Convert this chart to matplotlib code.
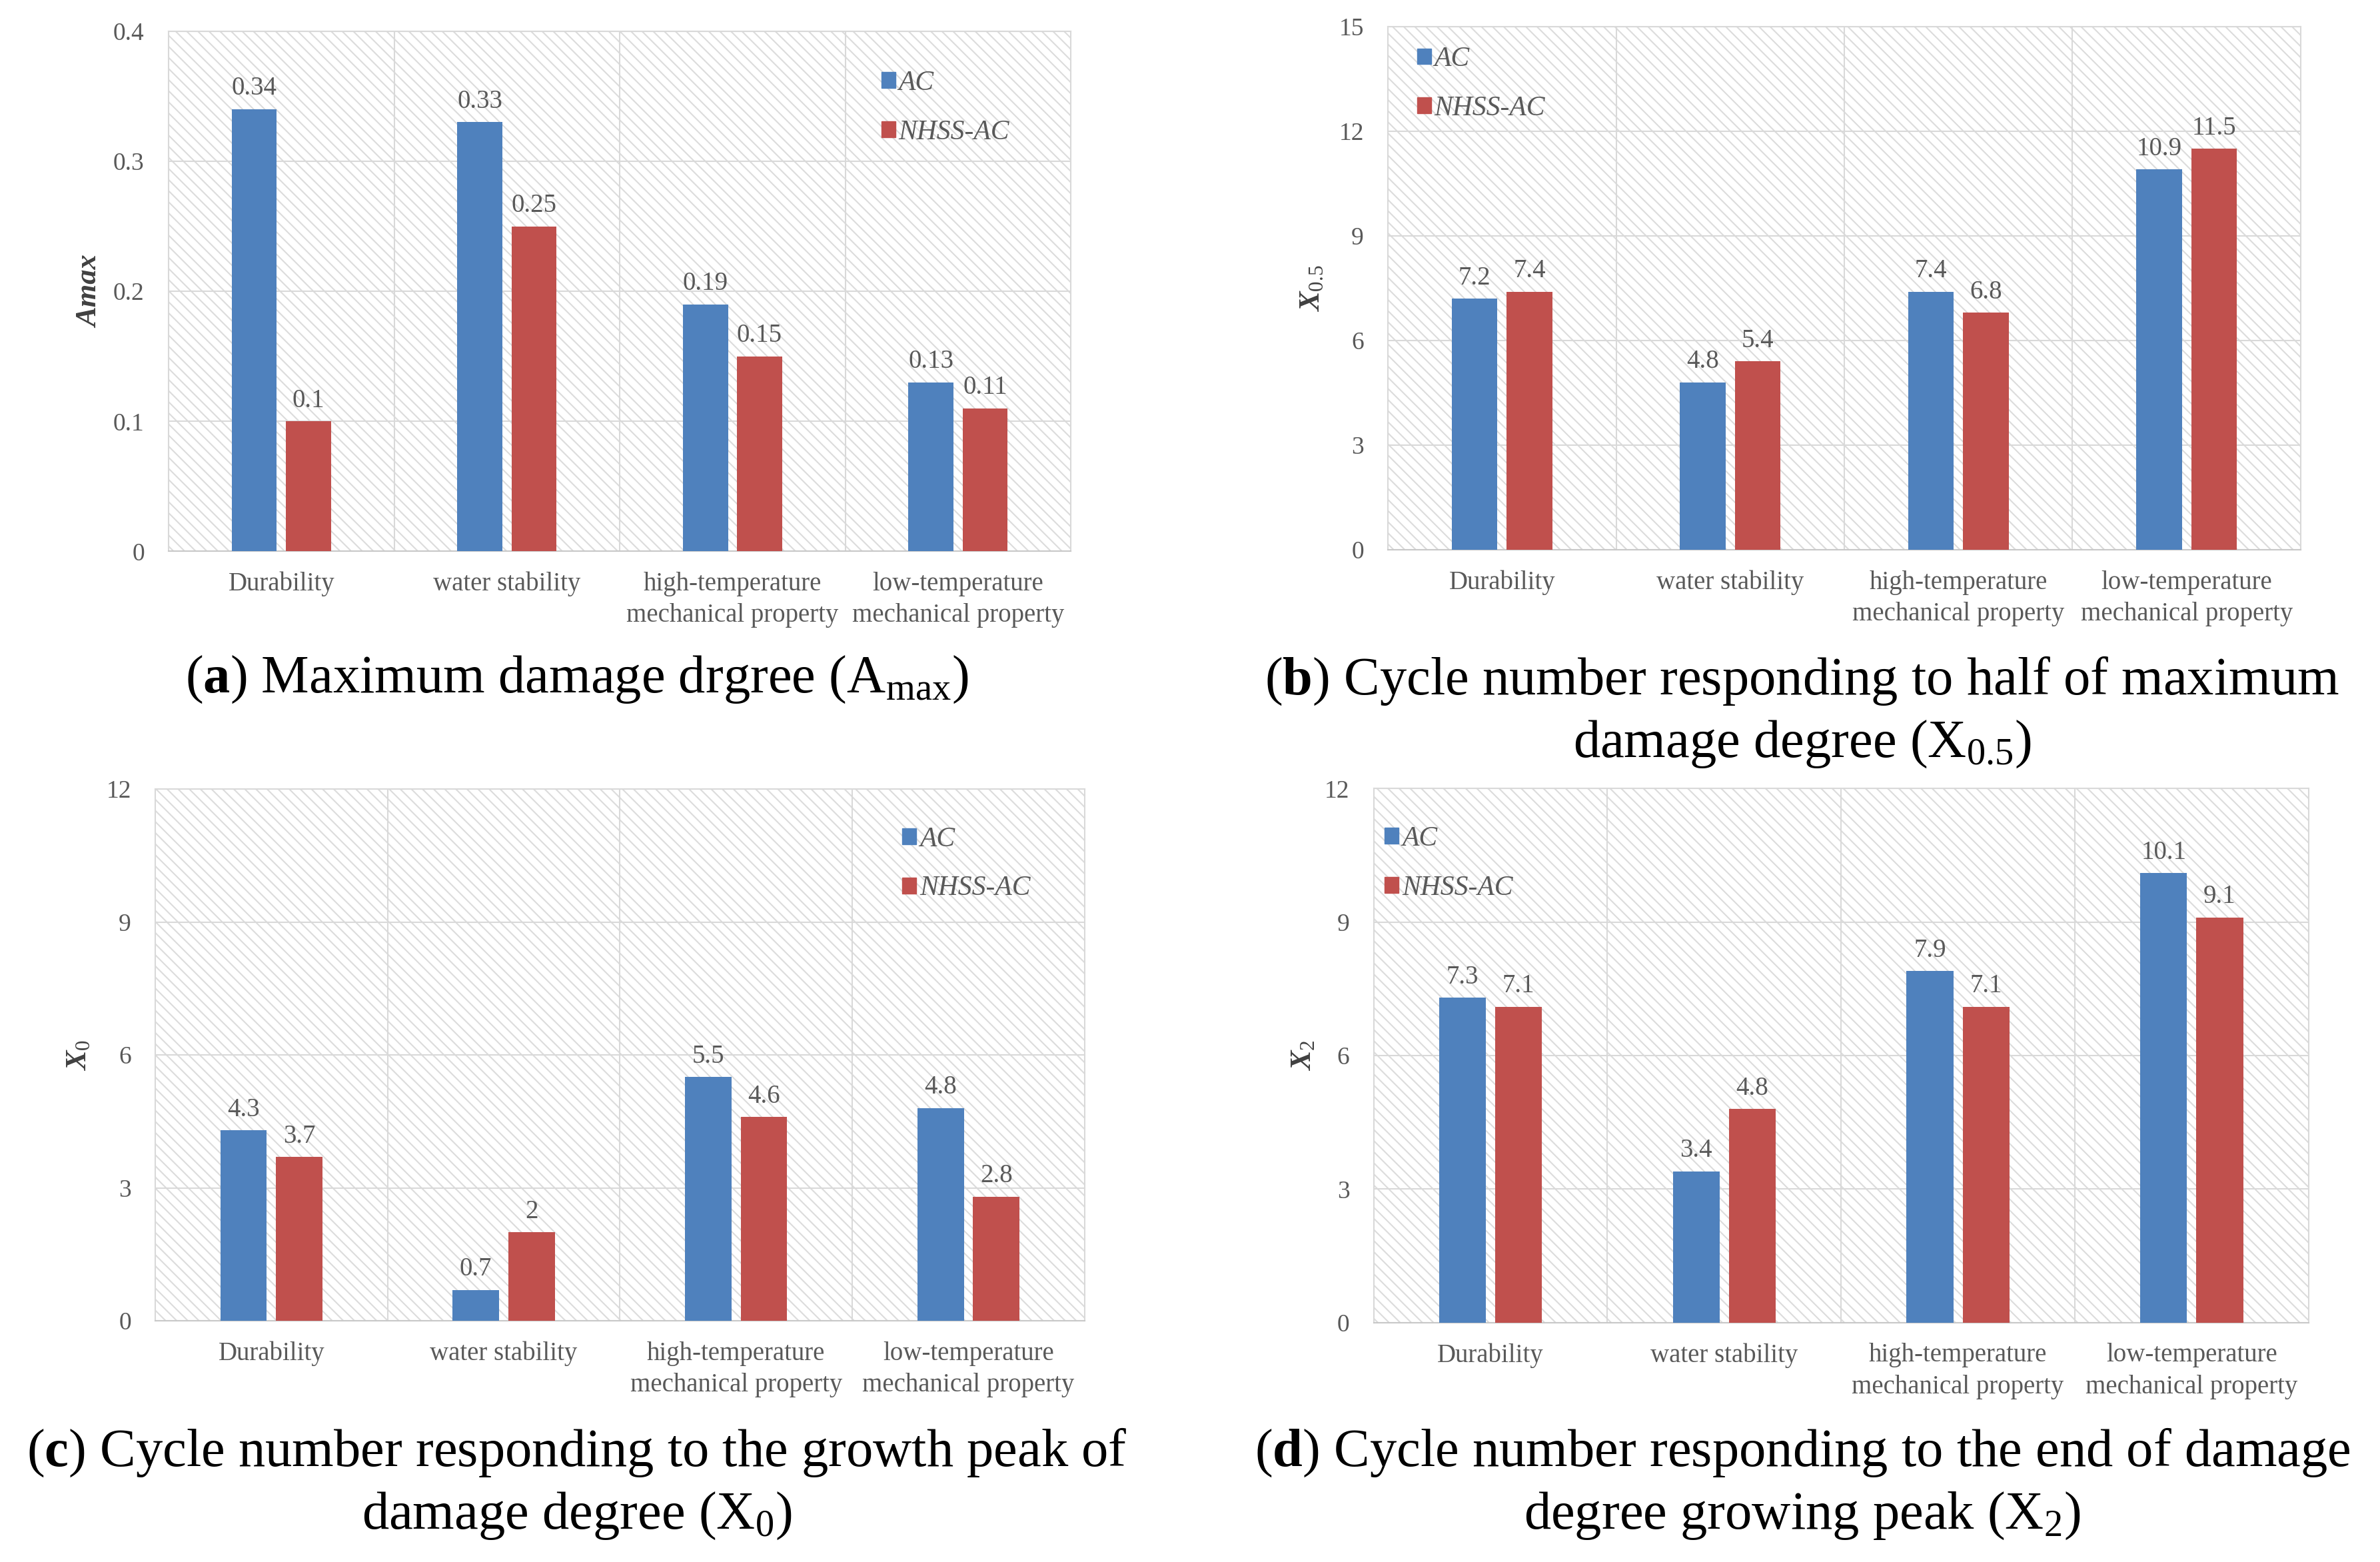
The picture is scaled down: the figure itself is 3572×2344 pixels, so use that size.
import matplotlib
matplotlib.use("Agg")
import matplotlib.pyplot as plt
from matplotlib.patches import Patch, Rectangle
import numpy as np

# ===== DATA =====
categories = ["Durability", "water stability",
              "high-temperature\nmechanical property",
              "low-temperature\nmechanical property"]
series_names = ["AC", "NHSS-AC"]

amax_ac = [0.34, 0.33, 0.19, 0.13]
amax_nhss = [0.1, 0.25, 0.15, 0.11]

x05_ac = [7.2, 4.8, 7.4, 10.9]
x05_nhss = [7.4, 5.4, 6.8, 11.5]

x0_ac = [4.3, 0.7, 5.5, 4.8]
x0_nhss = [3.7, 2, 4.6, 2.8]

x2_ac = [7.3, 3.4, 7.9, 10.1]
x2_nhss = [7.1, 4.8, 7.1, 9.1]

ylims = [0.4, 15, 12, 12]
ysteps = [0.1, 3, 3, 3]
ylabels = ["Amax", r"$X_{\mathit{0.5}}$", r"$X_{\mathit{0}}$", r"$X_{\mathit{2}}$"]
captions = [
    r"($\mathbf{a}$) Maximum damage drgree (A$_{\mathrm{max}}$)",
    "($\\mathbf{b}$) Cycle number responding to half of maximum\ndamage degree (X$_{\\mathrm{0.5}}$)",
    "($\\mathbf{c}$) Cycle number responding to the growth peak of\ndamage degree (X$_{\\mathrm{0}}$)",
    "($\\mathbf{d}$) Cycle number responding to the end of damage\ndegree growing peak (X$_{\\mathrm{2}}$)",
]

# ===== STYLE =====
plt.rcParams['font.family'] = ['Liberation Serif', 'DejaVu Serif']
plt.rcParams['mathtext.fontset'] = 'custom'
plt.rcParams['mathtext.rm'] = 'Liberation Serif'
plt.rcParams['mathtext.bf'] = 'Liberation Serif:bold'
plt.rcParams['mathtext.it'] = 'Liberation Serif:italic:bold'
plt.rcParams['hatch.color'] = '#dcdcdc'
plt.rcParams['hatch.linewidth'] = 1.5

BLUE = '#4F81BD'
RED = '#C0504D'
GRAY = '#595959'
GRID = '#d9d9d9'

fig = plt.figure(figsize=(35.73, 23.44), dpi=100)

# axes boxes [left, bottom, width, height]
boxes = [
    [0.0708, 0.647, 0.379, 0.333],
    [0.583, 0.648, 0.3834, 0.335],
    [0.0652, 0.1544, 0.3904, 0.3404],
    [0.577, 0.1532, 0.3927, 0.342],
]
legend_pos = [(0.79, 0.925), (0.032, 0.962), (0.804, 0.93), (0.012, 0.93)]
ylabel_x = [-0.072, -0.069, -0.068, -0.061]
caption_pos = [(0.2424, 0.565), (0.757, 0.544), (0.2424, 0.050), (0.757, 0.050)]

data = [(amax_ac, amax_nhss), (x05_ac, x05_nhss), (x0_ac, x0_nhss), (x2_ac, x2_nhss)]

x = np.arange(len(categories))
w = 0.2
off = 0.12

for i, (ac, nh) in enumerate(data):
    ax = fig.add_axes(boxes[i])
    ax.set_xlim(-0.5, len(categories) - 0.5)
    ax.set_ylim(0, ylims[i])

    # hatched background
    bg = Rectangle((0, 0), 1, 1, transform=ax.transAxes, facecolor='white',
                   edgecolor='#dcdcdc', hatch='\\\\', linewidth=0, zorder=0)
    ax.add_patch(bg)

    yt = np.arange(0, ylims[i] + ysteps[i] / 2, ysteps[i])
    ax.set_yticks(yt)
    ax.set_yticklabels([f"{v:g}" for v in yt])
    ax.set_xticks(x)
    ax.set_xticklabels(categories, linespacing=1.37)
    ax.set_xticks(x[:-1] + 0.5, minor=True)
    ax.grid(True, axis='y', which='major', color=GRID, linewidth=1.5, zorder=1)
    ax.grid(True, axis='x', which='minor', color=GRID, linewidth=1.5, zorder=1)
    ax.set_axisbelow(True)
    ax.tick_params(axis='both', which='both', length=0, labelcolor=GRAY)
    ax.tick_params(axis='y', labelsize=27, pad=26)
    ax.tick_params(axis='x', labelsize=28, pad=22)
    for s in ax.spines.values():
        s.set_color(GRID)
        s.set_linewidth(1.5)
    ax.spines['bottom'].set_color('#c8c8c8')

    b1 = ax.bar(x - off, ac, w, color=BLUE, zorder=3, label=series_names[0])
    b2 = ax.bar(x + off, nh, w, color=RED, zorder=3, label=series_names[1])
    for bars, vals in ((b1, ac), (b2, nh)):
        for r, v in zip(bars, vals):
            ax.annotate(f"{v:g}", (r.get_x() + r.get_width() / 2, v),
                        xytext=(0, 9), textcoords='offset points',
                        ha='center', va='bottom', fontsize=28, color=GRAY)

    ax.set_ylabel(ylabels[i], fontsize=32, color='#404040', fontstyle='italic',
                  fontweight='bold')
    ax.yaxis.set_label_coords(ylabel_x[i], 0.5)

    handles = [Patch(color=BLUE), Patch(color=RED)]
    leg = ax.legend(handles, series_names, loc='upper left',
                    bbox_to_anchor=legend_pos[i], frameon=False,
                    prop={'family': 'Liberation Serif', 'style': 'italic', 'size': 30},
                    handlelength=0.5, handleheight=0.5, handletextpad=0.12,
                    labelspacing=0.85, borderpad=0, borderaxespad=0)
    for t in leg.get_texts():
        t.set_color(GRAY)

    fig.text(caption_pos[i][0], caption_pos[i][1], captions[i], ha='center',
             va='center', fontsize=58, color='black', linespacing=1.3)

fig.savefig("out.png", dpi=100, facecolor='white')
